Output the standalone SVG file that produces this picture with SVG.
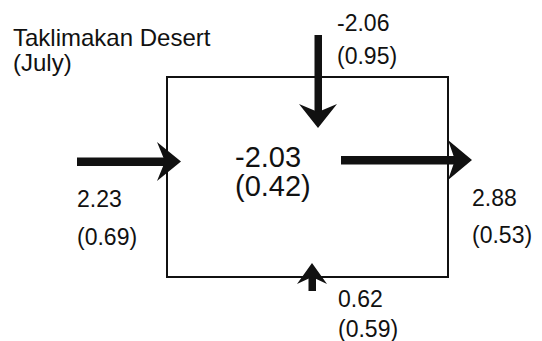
<svg xmlns="http://www.w3.org/2000/svg" width="542" height="341" viewBox="0 0 542 341">
<style>
text{font-family:"Liberation Sans",Arial,sans-serif;fill:#111}
.s{font-size:23px}
.c{font-size:29px}
.t{font-size:24px}
.arr{fill:#111}
.box{fill:none;stroke:#111;stroke-width:2}
</style>
<rect width="542" height="341" fill="#fff"/>
<g id="title">
<text class="t" x="13" y="46">Taklimakan Desert</text>
<text class="t" x="13" y="71">(July)</text>
</g>
<g id="box">
<rect class="box" x="167" y="77" width="281" height="200"/>
<text class="c" x="235" y="167">-2.03</text>
<text class="c" x="235" y="196">(0.42)</text>
</g>
<g id="connectors">
<g id="top-arrow">
<rect class="arr" x="314.5" y="35" width="7.5" height="78"/>
<polygon class="arr" points="318,128 337,104 318,112 299,104"/>
</g>
<g id="left-arrow">
<rect class="arr" x="77" y="157.5" width="89" height="8.5"/>
<polygon class="arr" points="181,161.5 157,142 165,161.5 157,181"/>
</g>
<g id="right-arrow">
<rect class="arr" x="341" y="156" width="115" height="8.5"/>
<polygon class="arr" points="472,160 448,140 455,160 448,180"/>
</g>
<g id="bottom-arrow">
<rect class="arr" x="308.5" y="272" width="7.5" height="19"/>
<polygon class="arr" points="312,263 327,284 312,277 297,284"/>
</g>
</g>
<g id="labels">
<text class="s" x="337" y="31">-2.06</text>
<text class="s" x="337" y="64">(0.95)</text>
<text class="s" x="77" y="207">2.23</text>
<text class="s" x="77" y="245">(0.69)</text>
<text class="s" x="472" y="206">2.88</text>
<text class="s" x="472" y="243">(0.53)</text>
<text class="s" x="338" y="307">0.62</text>
<text class="s" x="338" y="337">(0.59)</text>
</g>
</svg>
